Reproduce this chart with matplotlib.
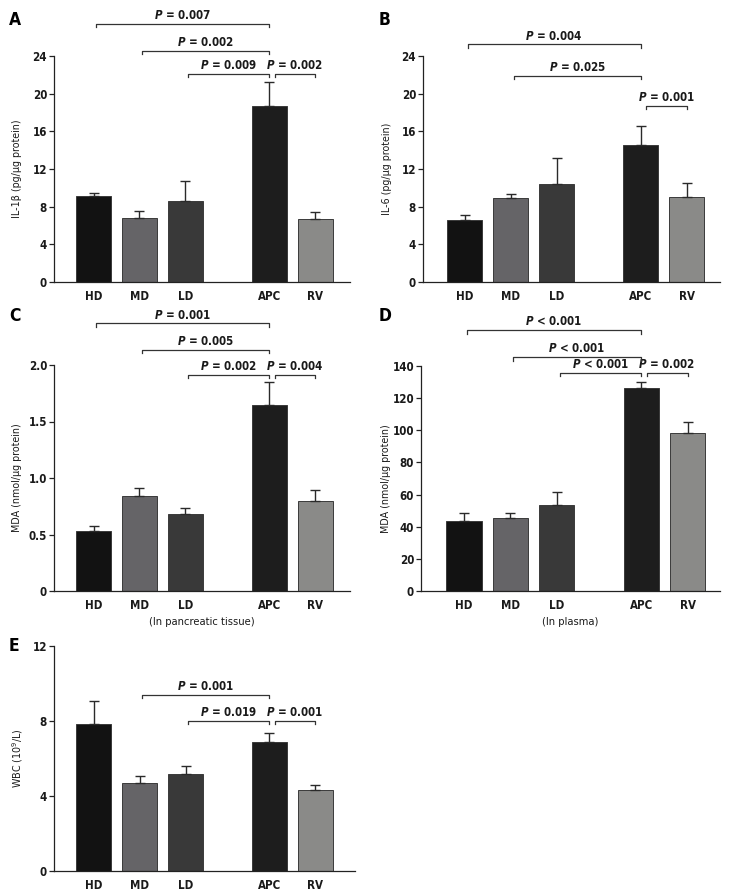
import matplotlib
matplotlib.use("Agg")
import matplotlib.pyplot as plt
from matplotlib import font_manager as fm
import numpy as np

# pick a narrow-ish Verdana-like face if available
try:
    _p = fm.findfont(fm.FontProperties(family="DejaVu Sans", weight="bold", stretch="condensed"),
                     fallback_to_default=False)
    HAS_COND = "Condensed" in _p
except Exception:
    HAS_COND = False
STRETCH = "condensed" if HAS_COND else "normal"
COND = ":stretch=condensed" if HAS_COND else ""

plt.rcParams['font.family'] = ['DejaVu Sans']
plt.rcParams['font.stretch'] = STRETCH
plt.rcParams['mathtext.fontset'] = 'custom'
plt.rcParams['mathtext.rm'] = 'DejaVu Sans' + COND
plt.rcParams['mathtext.it'] = 'DejaVu Sans:italic' + COND
plt.rcParams['mathtext.bf'] = 'DejaVu Sans:bold' + COND
plt.rcParams['mathtext.bfit'] = 'DejaVu Sans:italic:bold' + COND

# ---------------- data ----------------
groups = ["HD", "MD", "LD", "APC", "RV"]
group_pos = [0, 1, 2, 3.82, 4.82]

il1b_mean = [9.17, 6.80, 8.64, 18.70, 6.65]
il1b_err = [0.28, 0.74, 2.12, 2.54, 0.78]

il6_mean = [6.55, 8.88, 10.44, 14.55, 9.03]
il6_err = [0.55, 0.42, 2.69, 1.98, 1.52]

mda_tissue_mean = [0.530, 0.837, 0.683, 1.648, 0.793]
mda_tissue_err = [0.047, 0.077, 0.054, 0.201, 0.103]

mda_plasma_mean = [43.8, 45.7, 53.8, 126.1, 98.6]
mda_plasma_err = [4.6, 2.7, 8.0, 3.8, 6.4]

wbc_mean = [7.85, 4.72, 5.17, 6.87, 4.31]
wbc_err = [1.22, 0.36, 0.44, 0.50, 0.29]

# comparisons: (left group index, right group index, bracket height, label)
cmp_a = [(0, 3, 27.4, "= 0.007"), (1, 3, 24.57, "= 0.002"),
         (2, 3, 22.09, "= 0.009"), (3, 4, 22.09, "= 0.002")]
cmp_b = [(0, 3, 25.25, "= 0.004"), (1, 3, 21.88, "= 0.025"),
         (3, 4, 18.69, "= 0.001")]
cmp_c = [(0, 3, 2.37, "= 0.001"), (1, 3, 2.136, "= 0.005"),
         (2, 3, 1.911, "= 0.002"), (3, 4, 1.911, "= 0.004")]
cmp_d = [(0, 3, 162.3, "< 0.001"), (1, 3, 145.5, "< 0.001"),
         (2, 3, 135.8, "< 0.001"), (3, 4, 135.8, "= 0.002")]
cmp_e = [(1, 3, 9.41, "= 0.001"), (2, 3, 8.01, "= 0.019"),
         (3, 4, 8.01, "= 0.001")]

yticks_a = [0, 4, 8, 12, 16, 20, 24]
yticks_c = [0, 0.5, 1.0, 1.5, 2.0]
yticklabels_c = ["0", "0.5", "1.0", "1.5", "2.0"]
yticks_d = [0, 20, 40, 60, 80, 100, 120, 140]
yticks_e = [0, 4, 8, 12]

# ---------------- style ----------------
FS = 8.3 if HAS_COND else 7.6
bar_colors = ["#121212", "#656467", "#393939", "#1d1d1d", "#8a8a88"]
W, H = 734, 891
fig = plt.figure(figsize=(W / 100, H / 100), dpi=100)


def make_ax(left, right, top, bottom):
    return fig.add_axes([left / W, 1 - bottom / H, (right - left) / W, (bottom - top) / H])


def panel(ax, means, errs, yticks, yticklabels, ylabel, cmps, letter, letter_xy,
          xlim, ylabel_x, xlabel=None):
    ax.bar(group_pos, means, width=0.76, color=bar_colors, edgecolor="#3a3a3a",
           linewidth=0.7, zorder=2)
    ax.errorbar(group_pos, means, yerr=[np.zeros(len(errs)), errs], fmt="none",
                ecolor="#2a2a2a", elinewidth=1.0, capsize=3.5, capthick=1.0, zorder=3)
    ax.set_xlim(*xlim)
    ax.set_ylim(yticks[0], yticks[-1])
    ax.set_yticks(yticks)
    ax.set_yticklabels(yticklabels if yticklabels else [str(t) for t in yticks],
                       fontsize=FS, fontweight="bold", color="#1a1a1a")
    ax.set_xticks(group_pos)
    ax.set_xticklabels(groups, fontsize=FS, fontweight="bold", color="#1a1a1a")
    ax.tick_params(axis="x", length=0, pad=5.5)
    ax.tick_params(axis="y", length=3.5, width=0.9, pad=1.5, direction="out", color="#222")
    for s in ["top", "right"]:
        ax.spines[s].set_visible(False)
    for s in ["left", "bottom"]:
        ax.spines[s].set_linewidth(0.9)
        ax.spines[s].set_color("#222")
    ymax = yticks[-1]
    depth = 0.015 * ymax
    for i, j, y, lab in cmps:
        x0 = group_pos[i] + (0.12 if i == 3 else 0.06)
        x1 = group_pos[j]
        ax.plot([x0, x0, x1, x1], [y - depth, y, y, y - depth], color="#333",
                lw=0.9, clip_on=False, zorder=4)
        ax.annotate(r"$\mathbfit{P}$ " + lab, ((x0 + x1) / 2, y), xytext=(0, 1.2),
                    textcoords="offset points", ha="center", va="bottom",
                    fontsize=FS, fontweight="bold", color="#1a1a1a",
                    annotation_clip=False)
    pos = ax.get_position()
    fig.text(ylabel_x / W, pos.y0 + pos.height / 2, ylabel, rotation=90,
             ha="center", va="center", fontsize=FS - 0.6, color="#1a1a1a")
    fig.text(letter_xy[0] / W, 1 - letter_xy[1] / H, letter, fontsize=12.5,
             fontweight="bold", ha="center", va="center")
    if xlabel:
        fig.text((pos.x0 + pos.width / 2), 1 - 622 / H, xlabel, ha="center",
                 va="center", fontsize=FS - 0.3, color="#1a1a1a")


axA = make_ax(54, 350, 56, 282)
panel(axA, il1b_mean, il1b_err, yticks_a, None, "IL-1β (pg/μg protein)", cmp_a,
      "A", (15, 20), (-0.86, 5.58), 17)

axB = make_ax(423, 720, 56, 282)
panel(axB, il6_mean, il6_err, yticks_a, None, "IL-6 (pg/μg protein)", cmp_b,
      "B", (385, 20), (-0.91, 5.54), 387)

axC = make_ax(54, 350, 365, 591)
panel(axC, mda_tissue_mean, mda_tissue_err, yticks_c, yticklabels_c,
      "MDA (nmol/μg protein)", cmp_c, "C", (15, 316), (-0.86, 5.58), 17,
      "(In pancreatic tissue)")

axD = make_ax(421, 720, 366, 591)
panel(axD, mda_plasma_mean, mda_plasma_err, yticks_d, None,
      "MDA (nmol/μg protein)", cmp_d, "D", (385, 316), (-0.93, 5.52), 386,
      "(In plasma)")

axE = make_ax(54, 355, 646, 871)
panel(axE, wbc_mean, wbc_err, yticks_e, None, r"WBC (10$^{9}$/L)", cmp_e,
      "E", (14, 646), (-0.86, 5.68), 18)

fig.savefig("out.png", dpi=100)
